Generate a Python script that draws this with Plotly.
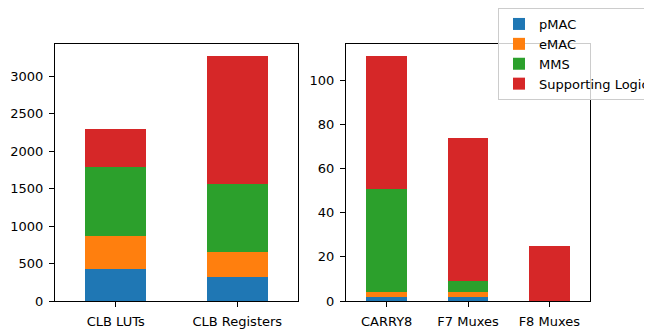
import plotly.graph_objects as go

W, H = 652, 335
OFF = 8  # page body margin offset

series = ["pMAC", "eMAC", "MMS", "Supporting Logic"]
colors = ["#1f77b4", "#ff7f0e", "#2ca02c", "#d62728"]

cats_left = ["CLB LUTs", "CLB Registers"]
left_pmac = [430, 320]
left_emac = [440, 337]
left_mms = [917, 903]
left_support = [506, 1707]

cats_right = ["CARRY8", "F7 Muxes", "F8 Muxes"]
right_pmac = [2, 2, 0]
right_emac = [2, 2, 0]
right_mms = [47, 5, 0]
right_support = [60, 65, 25]

left_vals = [left_pmac, left_emac, left_mms, left_support]
right_vals = [right_pmac, right_emac, right_mms, right_support]

fig = go.Figure()
for name, col, lv, rv in zip(series, colors, left_vals, right_vals):
    fig.add_trace(go.Bar(x=cats_left, y=lv, name=name, marker_color=col,
                         marker_line_width=0, width=0.5, xaxis="x", yaxis="y",
                         legendgroup=name, showlegend=True))
    fig.add_trace(go.Bar(x=cats_right, y=rv, name=name, marker_color=col,
                         marker_line_width=0, width=0.5, xaxis="x2", yaxis="y2",
                         legendgroup=name, showlegend=False))

font = dict(family="DejaVu Sans", size=13, color="black")


def px_x(v):
    return (v - OFF) / W


def px_y(v):
    return 1 - (v - OFF) / H


ydom = [px_y(301), px_y(44)]
axis_common = dict(showline=True, linecolor="black", linewidth=1, mirror=True,
                   ticks="outside", ticklen=5, tickwidth=1, tickcolor="black",
                   showgrid=False, zeroline=False, tickfont=font, automargin=False,
                   ticklabelstandoff=3)

fig.update_layout(
    width=W, height=H,
    margin=dict(l=0, r=0, t=0, b=0),
    paper_bgcolor="white", plot_bgcolor="white",
    barmode="stack",
    font=font,
    xaxis=dict(domain=[px_x(55), px_x(298)], range=[-0.5, 1.5], anchor="y", **axis_common),
    yaxis=dict(domain=ydom, range=[0, 3430], tickvals=[0, 500, 1000, 1500, 2000, 2500, 3000],
               anchor="x", **axis_common),
    xaxis2=dict(domain=[px_x(346), px_x(590)], range=[-0.5, 2.5], anchor="y2", **axis_common),
    yaxis2=dict(domain=ydom, range=[0, 116.55], tickvals=[0, 20, 40, 60, 80, 100],
                anchor="x2", **axis_common),
    legend=dict(x=px_x(498), y=1, xanchor="left", yanchor="top",
                bgcolor="rgba(255,255,255,0.8)", bordercolor="#cccccc", borderwidth=1,
                font=font, traceorder="normal", tracegroupgap=0, itemwidth=30),
    showlegend=True,
)

fig.write_html("out.html")
